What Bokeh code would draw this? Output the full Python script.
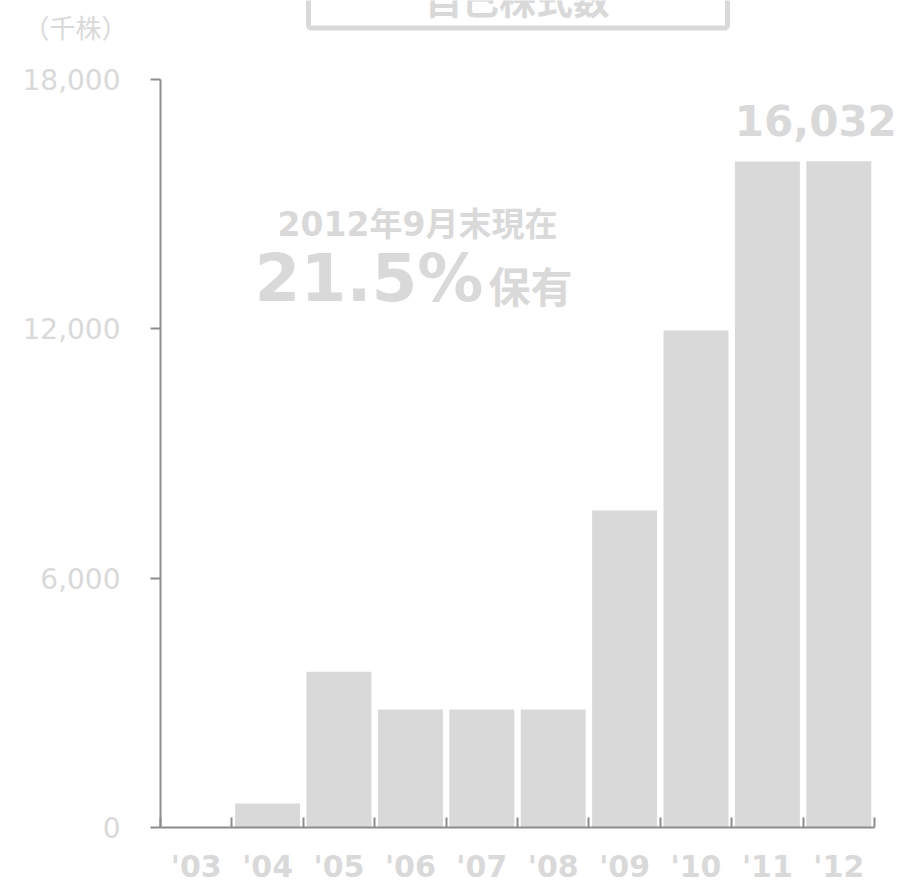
from bokeh.plotting import figure
from bokeh.models import Range1d, FixedTicker, NumeralTickFormatter, Label, BoxAnnotation
from bokeh.embed import file_html
from bokeh.resources import INLINE
import numpy as np

# ---- data ----
years = ["'03", "'04", "'05", "'06", "'07", "'08", "'09", "'10", "'11", "'12"]
shares = [0, 580, 3750, 2840, 2840, 2840, 7630, 11960, 16025, 16032]  # 千株
y_ticks = [0, 6000, 12000, 18000]
title_text = "自己株式数"
unit_text = "（千株）"
note_line1 = "2012年9月末現在"
note_pct = "21.5%"
note_suffix = "保有"

GRAY = "#d9d9d9"
AXIS = "#8c8c8c"

n = len(years)
centers = np.arange(n) + 0.5
Y_MAX = 18000

# canvas geometry: plot area spans the whole canvas, axes fixed at 0
W, H = 897, 883
LEFT, RIGHT, TOP, BOTTOM = 160, 874, 79, 827  # pixel positions of axis ends
kx = (RIGHT - LEFT) / n
ky = (BOTTOM - TOP) / Y_MAX
x_range = Range1d(-LEFT / kx, n + (W - RIGHT) / kx)
y_range = Range1d(-(H - BOTTOM) / ky, Y_MAX + TOP / ky)


def px_y(py):
    """data y for a pixel row (decorations only)"""
    return (BOTTOM - py) / ky


def px_x(px):
    return (px - LEFT) / kx


p = figure(width=W, height=H, output_backend="svg", toolbar_location=None,
           x_range=x_range, y_range=y_range,
           min_border_left=0, min_border_right=0, min_border_top=0, min_border_bottom=0)
p.outline_line_color = None
p.grid.grid_line_color = None

p.vbar(x=centers, top=shares, width=0.91, fill_color=GRAY, line_color=None)

# y axis
ya = p.yaxis[0]
ya.fixed_location = 0
ya.bounds = (0, Y_MAX)
ya.ticker = FixedTicker(ticks=y_ticks)
ya.formatter = NumeralTickFormatter(format="0,0")
ya.axis_line_color = AXIS
ya.axis_line_width = 2
ya.major_tick_line_color = AXIS
ya.major_tick_line_width = 2
ya.major_tick_in = 0
ya.major_tick_out = 10
ya.minor_tick_line_color = None
ya.major_label_standoff = 30
ya.major_label_text_font = "DejaVu Sans"
ya.major_label_text_font_size = "28px"
ya.major_label_text_color = GRAY

# x axis: labels at category centres, ticks at boundaries
xa = p.xaxis[0]
xa.fixed_location = 0
xa.bounds = (0, n)
xa.ticker = FixedTicker(ticks=list(centers), minor_ticks=list(range(n + 1)))
xa.major_label_overrides = {float(c): y for c, y in zip(centers, years)}
xa.axis_line_color = AXIS
xa.axis_line_width = 2
xa.major_tick_line_color = None
xa.major_tick_in = 0
xa.major_tick_out = 0
xa.minor_tick_line_color = AXIS
xa.minor_tick_line_width = 2
xa.minor_tick_in = 10
xa.minor_tick_out = 0
xa.major_label_standoff = 21
xa.major_label_text_font = "DejaVu Sans"
xa.major_label_text_font_style = "bold"
xa.major_label_text_font_size = "30px"
xa.major_label_text_color = GRAY

# title box (cut at top of page, as in the original)
p.add_layout(BoxAnnotation(left=px_x(308), right=px_x(727), bottom=px_y(27.5), top=px_y(-40),
                           fill_color=None, line_color=GRAY, line_alpha=1.0, line_width=5,
                           border_radius=3))
p.add_layout(Label(x=n / 2, y=px_y(-2), text=title_text, text_align="center",
                   text_baseline="middle", text_font="Noto Sans CJK JP",
                   text_font_style="bold", text_font_size="37px", text_color=GRAY))

# unit
p.add_layout(Label(x=px_x(75), y=px_y(26), text=unit_text, text_align="center",
                   text_baseline="middle", text_font="Noto Sans CJK JP",
                   text_font_size="26px", text_color=GRAY))

# value label of last bar
p.add_layout(Label(x=centers[-1], y=shares[-1], x_offset=-23, y_offset=41,
                   text=f"{shares[-1]:,}", text_align="center", text_baseline="middle",
                   text_font="DejaVu Sans", text_font_style="bold",
                   text_font_size="42px", text_color=GRAY))

# note
p.add_layout(Label(x=px_x(417), y=px_y(224), text=note_line1, text_align="center",
                   text_baseline="middle", text_font="DejaVu Sans, Noto Sans CJK JP",
                   text_font_style="bold", text_font_size="33px", text_color=GRAY))
p.add_layout(Label(x=px_x(483), y=px_y(278), text=note_pct, text_align="right",
                   text_baseline="middle", text_font="DejaVu Sans",
                   text_font_style="bold", text_font_size="66px", text_color=GRAY))
p.add_layout(Label(x=px_x(488), y=px_y(284), text=note_suffix, text_align="left",
                   text_baseline="middle", text_font="Noto Sans CJK JP",
                   text_font_style="bold", text_font_size="42px", text_color=GRAY))

open("out.html", "w").write(file_html(p, INLINE))
